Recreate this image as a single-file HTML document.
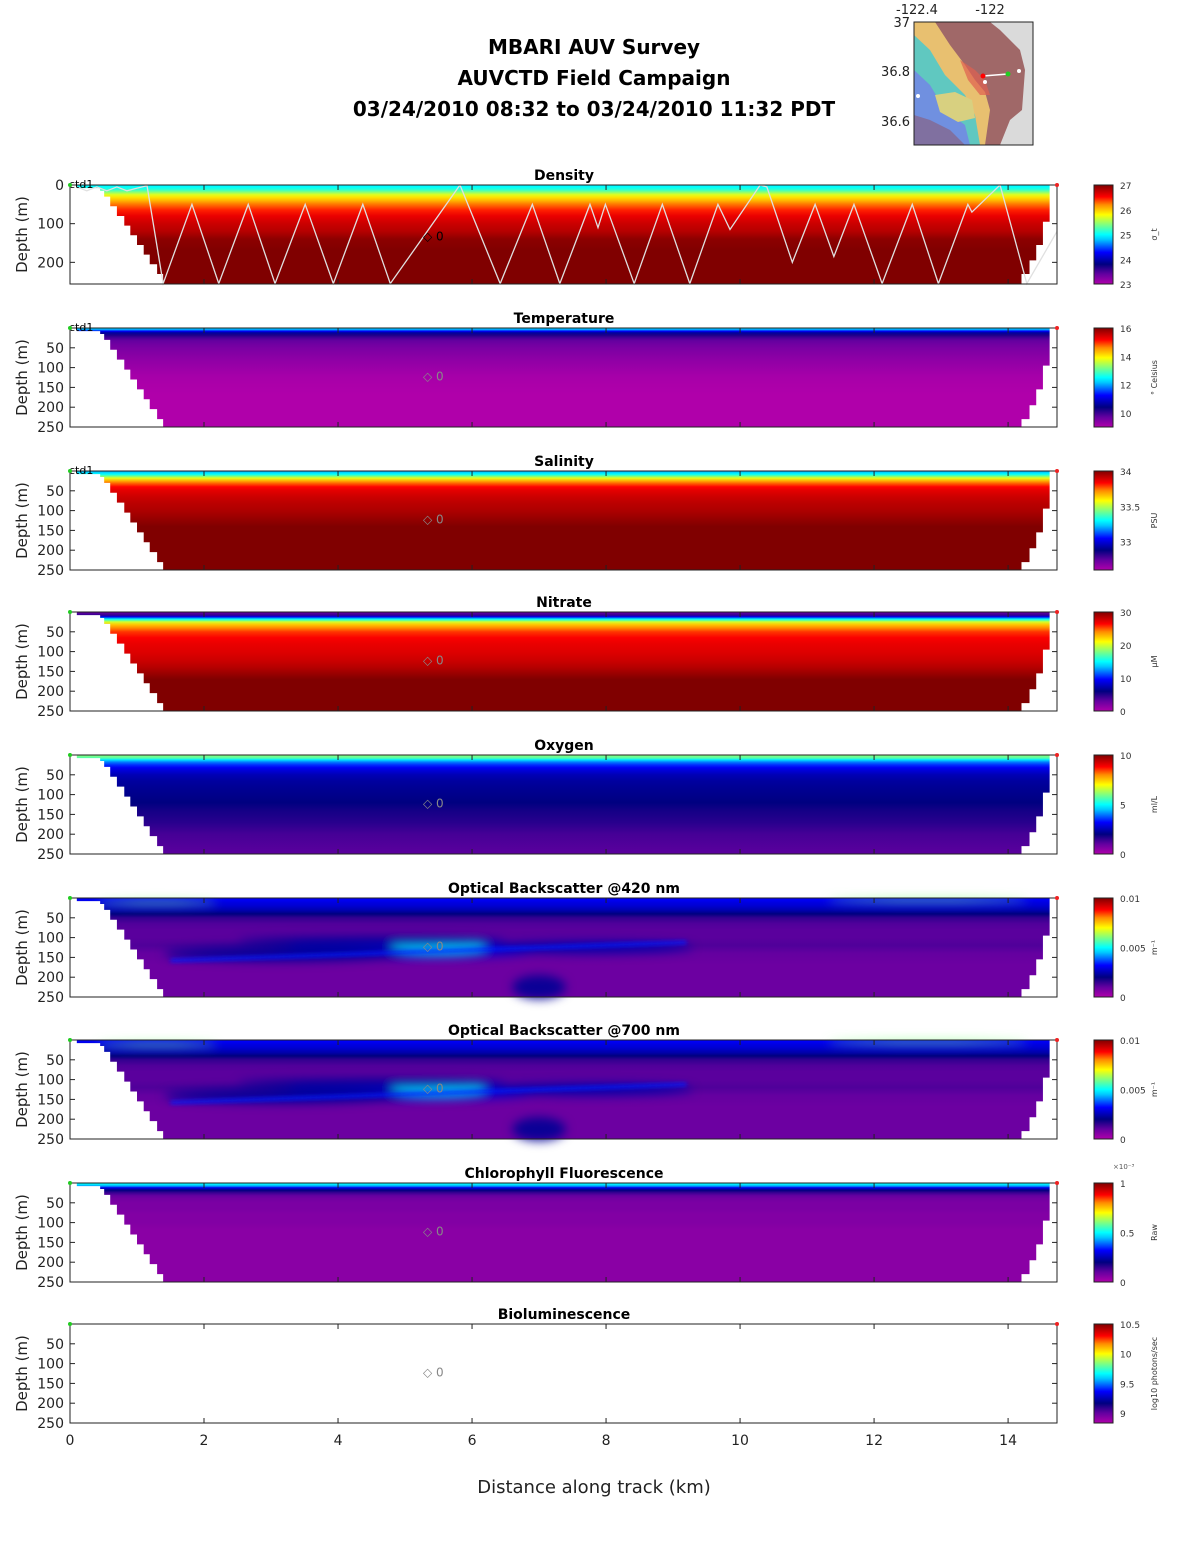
<!DOCTYPE html>
<html><head><meta charset="utf-8"><style>
html,body{margin:0;padding:0;background:#fff;}
svg{display:block;font-family:"DejaVu Sans","Liberation Sans",sans-serif;}
</style></head><body>
<svg id="fig" xmlns="http://www.w3.org/2000/svg" width="1188" height="1548" viewBox="0 0 1188 1548">
<defs>
<filter id="blur" x="-20%" y="-50%" width="140%" height="200%"><feGaussianBlur stdDeviation="5"/></filter>
<filter id="blur2" x="-20%" y="-50%" width="140%" height="200%"><feGaussianBlur stdDeviation="2"/></filter>
<clipPath id="mapclip"><rect x="914" y="22" width="119" height="123"/></clipPath>
</defs>
<g font-weight="bold" font-size="20" text-anchor="middle" fill="#000">
<text x="594" y="54">MBARI AUV Survey</text>
<text x="594" y="85">AUVCTD Field Campaign</text>
<text x="594" y="116">03/24/2010 08:32  to 03/24/2010 11:32 PDT</text>
</g>
<g>
<g clip-path="url(#mapclip)">
<rect x="914" y="22" width="119" height="123" fill="#a06868"/>
<polygon points="990,22 1033,22 1033,145 1000,145 1010,120 1022,110 1025,70 1020,50 1010,40 1000,30" fill="#dadada"/>
<polygon points="914,22 935,22 950,45 965,65 975,80 985,92 990,110 985,145 914,145" fill="#e8c070"/>
<polygon points="914,35 930,50 945,75 965,95 975,115 980,145 914,145" fill="#60c8c0"/>
<polygon points="914,70 930,85 945,110 965,125 970,145 914,145" fill="#7090e0"/>
<polygon points="914,115 930,120 950,130 965,145 914,145" fill="#8070a0"/>
<polygon points="935,95 955,92 972,100 975,118 958,122 940,112" fill="#d8d080"/>
<polygon points="960,60 975,70 985,80 990,95 980,95 968,80" fill="#e06050" opacity="0.7"/>
</g>
<rect x="914" y="22" width="119" height="123" fill="none" stroke="#222" stroke-width="1"/>
<line x1="983" y1="76" x2="1008" y2="74" stroke="#fff" stroke-width="1.5"/>
<circle cx="983" cy="76" r="2.5" fill="#f00"/>
<circle cx="1008" cy="74" r="2.5" fill="#2c2"/>
<circle cx="1019" cy="71" r="2" fill="#fff"/>
<circle cx="985" cy="82" r="2" fill="#fff"/>
<circle cx="918" cy="96" r="2" fill="#fff"/>
<g font-size="13" fill="#222">
<text x="917" y="14" text-anchor="middle">-122.4</text>
<text x="990" y="14" text-anchor="middle">-122</text>
<text x="910" y="27" text-anchor="end">37</text>
<text x="910" y="76" text-anchor="end">36.8</text>
<text x="910" y="126" text-anchor="end">36.6</text>
</g>
</g>
<g id="panels"></g>
<text x="594" y="1493" font-size="18" text-anchor="middle" fill="#222">Distance along track (km)</text>
</svg>
<script>
// ---- data ----
const xTicks = [0,2,4,6,8,10,12,14];
const panelTitles = ["Density","Temperature","Salinity","Nitrate","Oxygen","Optical Backscatter @420 nm","Optical Backscatter @700 nm","Chlorophyll Fluorescence","Bioluminescence"];
const panelUnits = ["σ_t","° Celsius","PSU","μM","ml/L","m⁻¹","m⁻¹","Raw","log10 photons/sec"];
const cbMin = [23,9,32.6,0,0,0,0,0,8.83];
const cbMax = [27,16,34,30,10,0.01,0.01,1,10.5];
const cbTickVals = [[23,24,25,26,27],[10,12,14,16],[33,33.5,34],[0,10,20,30],[0,5,10],[0,0.005,0.01],[0,0.005,0.01],[0,0.5,1],[9,9.5,10,10.5]];
const cbTickLabels = [["23","24","25","26","27"],["10","12","14","16"],["33","33.5","34"],["0","10","20","30"],["0","5","10"],["0","0.005","0.01"],["0","0.005","0.01"],["0","0.5","1"],["9","9.5","10","10.5"]];
const profileDepths = [0,4,8,12,18,25,32,40,50,65,80,100,120,140,170,200,256];
const densityProfile =  [24.9,25.0,25.05,25.15,25.4,25.7,25.9,26.05,26.25,26.45,26.6,26.72,26.8,26.95,27.0,27.0,27.0];
const tempProfile =     [12.3,12.0,11.2,10.6,10.2,9.9,9.7,9.6,9.5,9.4,9.3,9.2,9.1,9.05,9.0,9.0,9.0];
const salinityProfile = [33.2,33.25,33.3,33.4,33.55,33.68,33.76,33.83,33.87,33.9,33.92,33.94,33.97,34.0,34.0,34.0,34.0];
const nitrateProfile =  [3,3.5,4.5,9,15,20,22.5,24,25.5,26.5,27,27.3,27.8,28.5,30,30,30];
const oxygenProfile =   [6,5.9,5.6,4.8,4.0,3.5,3.1,2.8,2.5,2.3,2.2,2.1,2.0,1.8,1.6,1.3,1.1];
const ob420Profile =    [0.0032,0.0031,0.003,0.0029,0.0028,0.0026,0.0024,0.002,0.0015,0.0012,0.0011,0.0011,0.0012,0.001,0.0009,0.0009,0.0009];
const ob700Profile =    [0.0032,0.0031,0.003,0.0029,0.0028,0.0026,0.0024,0.002,0.0015,0.0012,0.0011,0.0011,0.0012,0.001,0.0009,0.0009,0.0009];
const chlProfile =      [0.5,0.48,0.42,0.3,0.2,0.14,0.1,0.08,0.07,0.07,0.06,0.06,0.05,0.05,0.05,0.05,0.05];
const profiles = [densityProfile,tempProfile,salinityProfile,nitrateProfile,oxygenProfile,ob420Profile,ob700Profile,chlProfile,null];
// blobs for backscatter panels
const obBlobsKm =    [5.0, 5.5, 3.2, 7.8, 7.0, 12.8, 1.3, 4.5];
const obBlobsDepth = [130, 124, 140, 125, 225, 6, 12, 108];
const obBlobsRx =    [2.0, 0.7, 1.8, 1.5, 0.4, 1.5, 0.9, 2.0];
const obBlobsRy =    [22, 18, 20, 15, 30, 5, 5, 10];
const obBlobsVal =   [0.0028, 0.0046, 0.0022, 0.0024, 0.0022, 0.006, 0.006, 0.0022];
// AUV track (density panel)
const trackKm =    [0.1,0.25,0.4,0.55,0.7,0.85,1.0,1.15,1.39,1.82,2.22,2.66,3.06,3.51,3.93,4.37,4.78,5.82,6.42,6.9,7.31,7.76,7.88,7.99,8.42,8.84,9.25,9.67,9.85,10.3,10.4,10.78,11.12,11.4,11.7,12.12,12.57,12.96,13.4,13.46,13.88,14.28,14.73];
const trackDepth = [5,15,5,15,5,15,8,2,255,50,255,50,255,50,255,50,255,0,255,50,255,50,110,50,255,50,255,50,115,0,5,200,50,185,50,255,50,255,50,70,0,255,120];
// bathymetry/mask edges
const leftEdgeDepth = [0,8,15,30,55,80,105,130,155,180,205,230,256];
const leftEdgeKm =    [0.1,0.45,0.51,0.6,0.7,0.81,0.9,1.0,1.1,1.19,1.3,1.39];
const rightEdgeDepth = [0,95,155,195,230,256];
const rightEdgeKm =    [14.62,14.52,14.42,14.32,14.2];

// ---- layout ----
const X0=70, X1=1057, KMMAX=14.73;
const panelTops=[185,328,471,612,755,898,1040,1183,1324];
const PH=99;
const CBX=1094, CBW=19;
const xs = km => X0 + (km/KMMAX)*(X1-X0);
const jet = [[0,[176,0,170]],[0.1,[100,0,160]],[0.2,[0,0,128]],[0.32,[0,0,255]],[0.45,[0,200,255]],[0.5,[0,255,255]],[0.6,[128,255,128]],[0.7,[255,255,0]],[0.8,[255,140,0]],[0.88,[255,0,0]],[1,[128,0,0]]];
function cmap(t){t=Math.max(0,Math.min(1,t));for(let i=1;i<jet.length;i++){if(t<=jet[i][0]){const a=jet[i-1],b=jet[i];const f=(t-a[0])/(b[0]-a[0]);const c=a[1].map((v,k)=>Math.round(v+(b[1][k]-v)*f));return `rgb(${c})`;}}return 'rgb(128,0,0)';}
const NS='http://www.w3.org/2000/svg';
function mk(tag,attrs,parent){const e=document.createElementNS(NS,tag);for(const k in attrs)e.setAttribute(k,attrs[k]);parent.appendChild(e);return e;}
const root=document.getElementById('panels');
const defs=document.querySelector('defs');

panelTops.forEach((top,p)=>{
  const dmax = p===0?256:250;
  const ys = d => top + (d/dmax)*PH;
  const g=mk('g',{},root);
  
  
  const vmin=cbMin[p], vmax=cbMax[p];
  const prof=profiles[p];
  if(prof){
    const gid='pg'+p;
    const lg=mk('linearGradient',{id:gid,x1:0,y1:0,x2:0,y2:1},defs);
    profileDepths.forEach((d,i)=>{mk('stop',{offset:Math.min(1,d/dmax),'stop-color':cmap((prof[i]-vmin)/(vmax-vmin))},lg);});
    const field=mk('rect',{x:xs(0.1),y:top,width:xs(14.73)-xs(0.1),height:PH,fill:`url(#${gid})`},g);
    
    
    if(p===5||p===6){
      const bg=mk('g',{filter:'url(#blur)'},g);
      obBlobsKm.forEach((km,i)=>{
        const el=mk('ellipse',{cx:xs(km),cy:ys(obBlobsDepth[i]),rx:xs(obBlobsRx[i])-X0,ry:(obBlobsRy[i]/dmax)*PH,fill:cmap((obBlobsVal[i]-vmin)/(vmax-vmin)),opacity:0.9},bg);
        
        
      });
      const ln=mk('line',{x1:xs(1.5),y1:ys(158),x2:xs(9.2),y2:ys(112),stroke:cmap(0.34),'stroke-width':3,filter:'url(#blur2)'},g);
      
      
    }
    let pts=[[X0,top-1]];
    leftEdgeKm.forEach((k,i)=>{const nx=xs(k);pts.push([nx,ys(leftEdgeDepth[i])]);pts.push([nx,ys(leftEdgeDepth[i+1])]);});
    pts.push([xs(leftEdgeKm[leftEdgeKm.length-1]),top+PH+1]);pts.push([X0,top+PH+1]);
    const m=mk('polygon',{points:pts.map(q=>q.join(',')).join(' '),fill:'#fff'},g);
    
    
    pts=[[X1+1,top-1]];
    rightEdgeKm.forEach((k,i)=>{const nx=xs(k);pts.push([nx,ys(rightEdgeDepth[i])]);pts.push([nx,ys(rightEdgeDepth[i+1])]);});
    pts.push([xs(rightEdgeKm[rightEdgeKm.length-1]),top+PH+1]);pts.push([X1+1,top+PH+1]);
    const m2=mk('polygon',{points:pts.map(q=>q.join(',')).join(' '),fill:'#fff'},g);
    
    
  }
  if(p===0){
    const tp=trackKm.map((k,i)=>xs(k)+','+ys(trackDepth[i])).join(' ');
    const tr=mk('polyline',{points:tp,fill:'none',stroke:'#e0e0e0','stroke-width':1.3},g);
    
    
  }
  const ax=mk('rect',{x:X0,y:top,width:X1-X0,height:PH,fill:'none',stroke:'#222','stroke-width':1},g);
  
  
  xTicks.forEach(k=>{
    mk('line',{x1:xs(k),y1:top,x2:xs(k),y2:top+5,stroke:'#222'},g);
    mk('line',{x1:xs(k),y1:top+PH,x2:xs(k),y2:top+PH-5,stroke:'#222'},g);
    if(p===8){const t=mk('text',{x:xs(k),y:top+PH+22,'font-size':14,'text-anchor':'middle',fill:'#222'},g);t.textContent=k;
      }
  });
  const yt = p===0?[0,100,200]:[50,100,150,200,250];
  yt.forEach(d=>{
    mk('line',{x1:X0,y1:ys(d),x2:X0+5,y2:ys(d),stroke:'#222'},g);
    mk('line',{x1:X1,y1:ys(d),x2:X1-5,y2:ys(d),stroke:'#222'},g);
    const t=mk('text',{x:X0-6,y:ys(d)+5,'font-size':14,'text-anchor':'end',fill:'#222'},g);t.textContent=d;
    
  });
  const yl=mk('text',{x:0,y:0,'font-size':15,'text-anchor':'middle',fill:'#222',transform:`translate(27,${top+PH/2}) rotate(-90)`},g);
  yl.textContent='Depth (m)';
  
  const tt=mk('text',{x:564,y:top-5,'font-size':14,'font-weight':'bold','text-anchor':'middle',fill:'#000'},g);
  tt.textContent=panelTitles[p];
  
  if(p<3){const c=mk('text',{x:69,y:top+3,'font-size':11,fill:'#000'},g);c.textContent='ctd1';
    }
  const mkr=mk('text',{x:423,y:ys(p===0?130:120)+5,'font-size':12,fill:p===0?'#000':'#888'},g);mkr.textContent='◇ 0';
  
  mk('circle',{cx:X0,cy:top,r:2,fill:'#2c2'},g);
  mk('circle',{cx:X1,cy:top,r:2,fill:'#e22'},g);
  const cid='cb'+p;
  const cg=mk('linearGradient',{id:cid,x1:0,y1:1,x2:0,y2:0},defs);
  jet.forEach(s=>mk('stop',{offset:s[0],'stop-color':cmap(s[0])},cg));
  const cb=mk('rect',{x:CBX,y:top,width:CBW,height:PH,fill:`url(#${cid})`,stroke:'#222','stroke-width':1},g);
  
  cbTickVals[p].forEach((v,i)=>{
    const yy=top+PH-((v-vmin)/(vmax-vmin))*PH;
    const t=mk('text',{x:CBX+CBW+7,y:yy+4,'font-size':9,fill:'#333'},g);t.textContent=cbTickLabels[p][i];
    
  });
  const ul=mk('text',{x:0,y:0,'font-size':8,'text-anchor':'middle',fill:'#333',transform:`translate(${CBX+CBW+44},${top+PH/2}) rotate(-90)`},g);
  ul.textContent=panelUnits[p];
  
  if(p===7){const e=mk('text',{x:1113,y:top-14,'font-size':7,fill:'#555'},g);e.textContent='×10⁻³';
    }
});
</script>
</body></html>
